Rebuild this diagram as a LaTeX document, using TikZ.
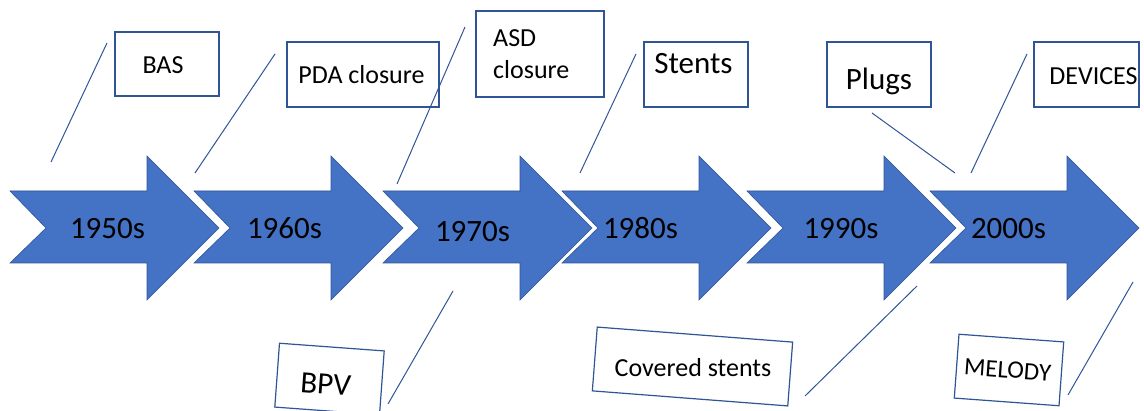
\documentclass[tikz,border=0pt]{standalone}
\usepackage{fontspec}
\setmainfont{Carlito}
\definecolor{arrowblue}{HTML}{4472C4}
\definecolor{edgeblue}{HTML}{2F5597}
\tikzset{
  yearlbl/.style={anchor=base, inner sep=0pt, font=\fontsize{31}{37}\selectfont},
  boxlbl/.style={anchor=base, inner sep=0pt, font=\fontsize{26}{31}\selectfont},
  biglbl/.style={anchor=base, inner sep=0pt, font=\fontsize{31}{37}\selectfont},
  callbox/.style={draw=edgeblue, line width=1.2pt, fill=white, inner sep=0pt},
  callline/.style={draw=edgeblue, line width=1pt},
  timearrow/.style={fill=arrowblue, draw=edgeblue, line width=0.6pt, line join=miter}
}
\begin{document}
\begin{tikzpicture}[x=1pt,y=-1pt]
\useasboundingbox (0,0) rectangle (1144,411);
% arrows
\foreach \t in {10,194,383,562,747,930}{
  \path[timearrow] (\t,191) -- (\t+36,228) -- (\t,263) -- (\t+137,263) -- (\t+137,300)
     -- (\t+209,228) -- (\t+137,156) -- (\t+137,191) -- cycle;
}
% year labels
\node[yearlbl] (y1950) at (107.5,239) {1950s};
\node[yearlbl] (y1960) at (284.5,239) {1960s};
\node[yearlbl] (y1970) at (472.5,242) {1970s};
\node[yearlbl] (y1980) at (640.5,239) {1980s};
\node[yearlbl] (y1990) at (841,239) {1990s};
\node[yearlbl] (y2000) at (1008.5,239) {2000s};
% top boxes
\node[callbox, minimum width=104pt, minimum height=64pt] (bBAS) at (167,64) {};
\node[boxlbl] (tBAS) at (163,73.3) {BAS};
\node[callbox, minimum width=152pt, minimum height=65pt] (bPDA) at (363,74.5) {};
\node[boxlbl] (tPDA) at (361.5,83.3) {PDA closure};
\node[callbox, minimum width=128pt, minimum height=86pt] (bASD) at (540,54) {};
\node[boxlbl, anchor=base west] (tASD1) at (493,46.7) {ASD};
\node[boxlbl, anchor=base west] (tASD2) at (493,79) {closure};
\node[callbox, minimum width=104pt, minimum height=65pt] (bSt) at (696,74.5) {};
\node[biglbl] (tSt) at (693.5,74) {Stents};
\node[callbox, minimum width=104pt, minimum height=65pt] (bPl) at (879,74.5) {};
\node[biglbl] (tPl) at (879,89.3) {Plugs};
\node[callbox, minimum width=105pt, minimum height=65pt] (bDev) at (1086.5,74.5) {};
\node[boxlbl] (tDev) at (1093.5,84.3) {DEVICES};
% bottom (tilted) boxes
\node[callbox, rotate=-4.2, minimum width=105pt, minimum height=64pt] (bBPV) at (329.5,379) {};
\node[biglbl, rotate=-4.2] (tBPV) at (325,394) {BPV};
\node[callbox, rotate=-4.4, minimum width=196pt, minimum height=64pt] (bCov) at (692.5,366.5) {};
\node[boxlbl] (tCov) at (693,376.7) {Covered stents};
\node[callbox, rotate=-4.2, minimum width=105pt, minimum height=64pt] (bMel) at (1009,370) {};
\node[boxlbl, rotate=-4.2, font=\fontsize{25}{30}\selectfont] (tMel) at (1007,378) {MELODY};
% callout lines (drawn on top, as in the reference)
\coordinate (l1a) at (107,43);  \coordinate (l1b) at (51,162);
\coordinate (l2a) at (275,54);  \coordinate (l2b) at (195,173);
\coordinate (l3a) at (465,27);  \coordinate (l3b) at (397,184);
\coordinate (l4a) at (636,54);  \coordinate (l4b) at (580,173);
\coordinate (l5a) at (872,113); \coordinate (l5b) at (955,173);
\coordinate (l6a) at (1027,54); \coordinate (l6b) at (971,173);
\coordinate (l7a) at (453,291); \coordinate (l7b) at (388,404);
\coordinate (l8a) at (917,286); \coordinate (l8b) at (805,396);
\coordinate (l9a) at (1133,282);\coordinate (l9b) at (1068,395);
\foreach \k in {1,...,9}{\draw[callline] (l\k a) -- (l\k b);}
\end{tikzpicture}
\end{document}
